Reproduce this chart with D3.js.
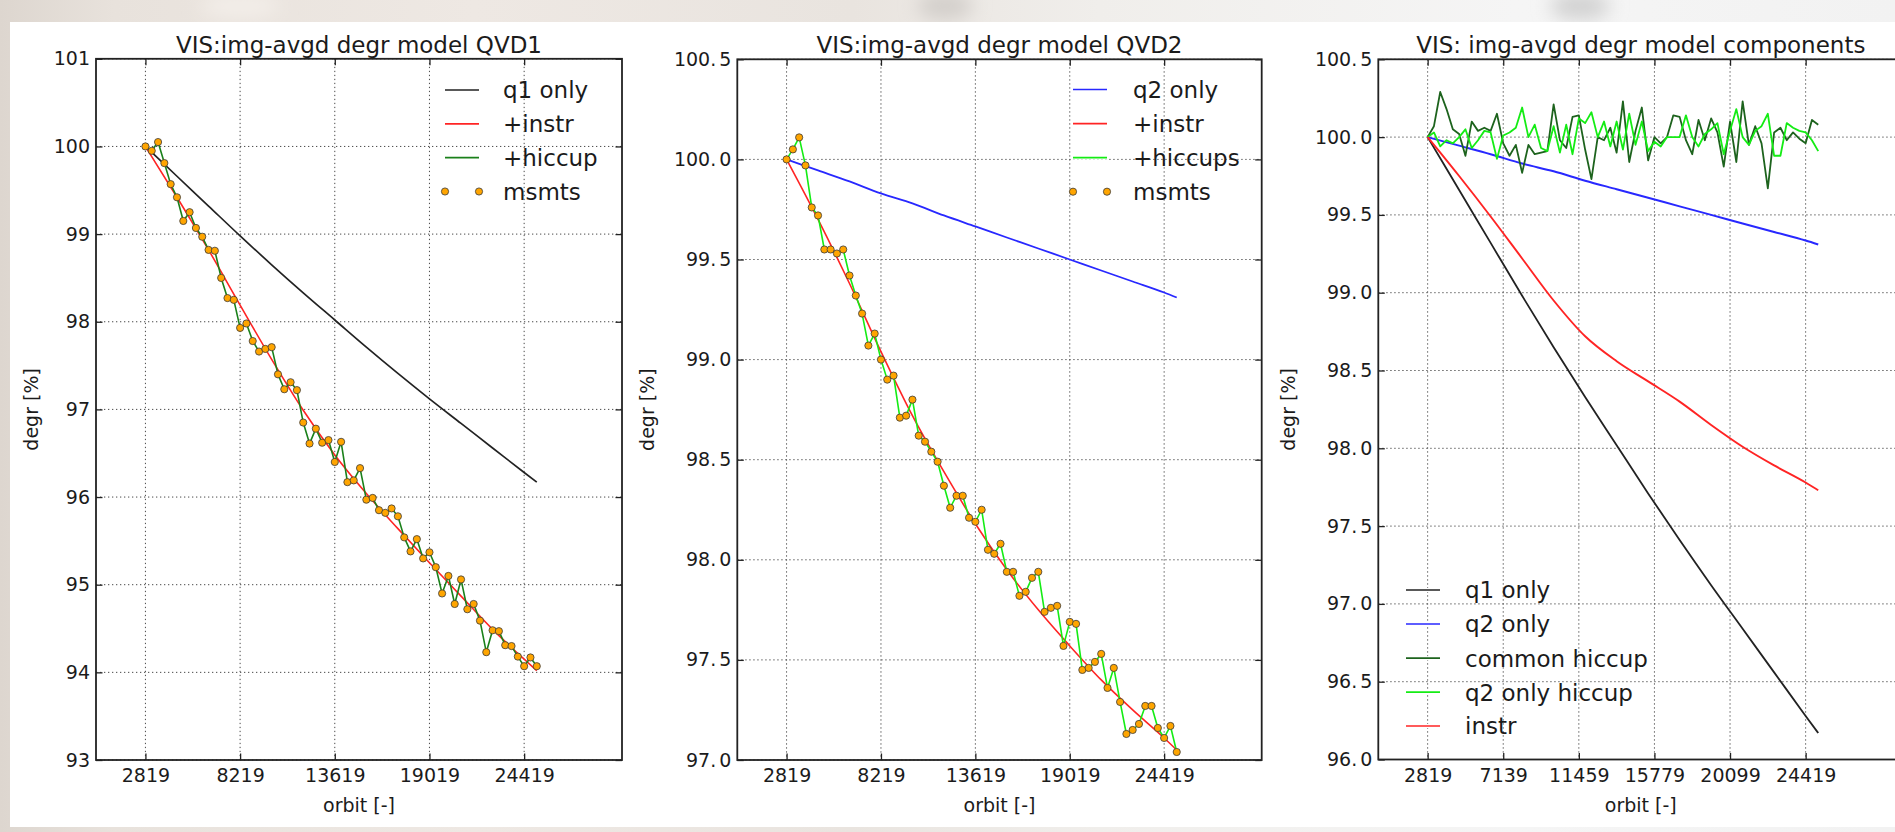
<!DOCTYPE html>
<html>
<head>
<meta charset="utf-8">
<script src="https://cdn.jsdelivr.net/npm/d3@7/dist/d3.min.js"></script>
<style>
html,body{margin:0;padding:0;overflow:hidden;background:#ebe6e1;}
svg{display:block;}
</style>
</head>
<body>
<svg id="chart" width="1895" height="832"></svg>
<script>
// ---------------- data ----------------
const orbits = [
  2819, 3179, 3539, 3899, 4259, 4619, 4979, 5339, 5699, 6059,
  6419, 6779, 7139, 7499, 7859, 8219, 8579, 8939, 9299, 9659,
  10019, 10379, 10739, 11099, 11459, 11819, 12179, 12539, 12899, 13259,
  13619, 13979, 14339, 14699, 15059, 15419, 15779, 16139, 16499, 16859,
  17219, 17579, 17939, 18299, 18659, 19019, 19379, 19739, 20099, 20459,
  20819, 21179, 21539, 21899, 22259, 22619, 22979, 23339, 23699, 24059,
  24419, 24779, 25139
];
const modelOrbits = [2819, 4619, 6419, 8219, 10019, 11819, 13619, 15419, 17219, 19019, 20819, 22619, 24419, 25139];

const xTicksQVD = [2819, 8219, 13619, 19019, 24419];
const xTicksComp = [2819, 7139, 11459, 15779, 20099, 24419];
const yTicksQVD1 = [93, 94, 95, 96, 97, 98, 99, 100, 101];
const yTicksQVD2 = [97.0, 97.5, 98.0, 98.5, 99.0, 99.5, 100.0, 100.5];
const yTicksComp = [96.0, 96.5, 97.0, 97.5, 98.0, 98.5, 99.0, 99.5, 100.0, 100.5];

const qvd1Msmts = [
  100.00, 99.95, 100.05, 99.81, 99.57, 99.42, 99.15, 99.25, 99.07, 98.97,
  98.82, 98.81, 98.50, 98.27, 98.25, 97.93, 97.98, 97.78, 97.66, 97.69,
  97.71, 97.40, 97.23, 97.31, 97.22, 96.85, 96.61, 96.78, 96.62, 96.65,
  96.40, 96.63, 96.17, 96.19, 96.33, 95.97, 95.99, 95.85, 95.82, 95.87,
  95.78, 95.54, 95.38, 95.52, 95.30, 95.37, 95.20, 94.90, 95.10, 94.78,
  95.06, 94.72, 94.78, 94.59, 94.23, 94.48, 94.47, 94.31, 94.30, 94.18,
  94.07, 94.17, 94.07
];
const qvd1Hiccup = qvd1Msmts;
const q1Only = [100.00, 99.66, 99.32, 98.98, 98.65, 98.33, 98.02, 97.71, 97.41, 97.12, 96.84, 96.56, 96.28, 96.17];
const qvd1Instr = [100.00, 99.42, 98.82, 98.19, 97.57, 96.99, 96.48, 96.04, 95.64, 95.25, 94.87, 94.49, 94.15, 94.02];

const qvd2Msmts = [
  100.00, 100.05, 100.11, 99.97, 99.76, 99.72, 99.55, 99.55, 99.53, 99.55,
  99.42, 99.32, 99.23, 99.07, 99.13, 99.00, 98.90, 98.92, 98.71, 98.72,
  98.80, 98.62, 98.59, 98.54, 98.49, 98.37, 98.26, 98.32, 98.32, 98.21,
  98.19, 98.25, 98.05, 98.03, 98.08, 97.94, 97.94, 97.82, 97.84, 97.91,
  97.94, 97.74, 97.76, 97.77, 97.57, 97.69, 97.68, 97.45, 97.46, 97.49,
  97.53, 97.36, 97.46, 97.29, 97.13, 97.15, 97.18, 97.27, 97.27, 97.16,
  97.11, 97.17, 97.04
];
const qvd2Hiccups = qvd2Msmts;
const q2Only = [100.00, 99.945, 99.89, 99.83, 99.78, 99.72, 99.665, 99.61, 99.555, 99.50, 99.445, 99.39, 99.335, 99.31];
const qvd2Instr = [100.00, 99.70, 99.38, 99.04, 98.72, 98.44, 98.18, 97.95, 97.75, 97.57, 97.40, 97.25, 97.11, 97.05];

const commonHiccup = [
  100.00, 100.07, 100.29, 100.18, 100.05, 100.02, 99.88, 100.10, 100.04, 100.06,
  100.04, 100.15, 99.96, 99.88, 99.95, 99.77, 99.95, 99.89, 99.90, 99.91,
  100.21, 99.98, 99.93, 100.13, 100.14, 99.92, 99.73, 100.00, 99.98, 100.06,
  99.90, 100.23, 99.84, 100.04, 100.19, 99.85, 100.00, 99.96, 100.00, 100.14,
  100.13, 99.98, 99.89, 100.11, 99.98, 100.12, 100.03, 99.81, 100.10, 99.84,
  100.23, 99.95, 100.07, 99.96, 99.67, 100.03, 100.06, 99.98, 100.03, 99.99,
  99.96, 100.11, 100.08
];
const q2OnlyHiccup = [
  100.00, 100.03, 99.94, 99.98, 99.96, 100.00, 100.05, 99.93, 99.98, 100.04,
  100.03, 99.86, 100.01, 100.03, 100.06, 100.19, 100.00, 100.08, 99.93, 99.91,
  100.07, 99.90, 100.08, 99.89, 100.12, 100.09, 100.16, 100.00, 100.10, 99.94,
  100.10, 99.92, 100.15, 99.95, 100.10, 99.91, 99.97, 99.94, 100.00, 100.00,
  100.00, 100.14, 100.00, 99.94, 100.02, 100.05, 100.09, 99.89, 100.04, 100.18,
  100.00, 99.95, 100.04, 100.07, 100.15, 99.88, 99.88, 100.09, 100.06, 100.04,
  100.03, 99.98, 99.91
];
const instrOnly = [100.00, 99.75, 99.49, 99.22, 98.95, 98.72, 98.56, 98.43, 98.30, 98.15, 98.01, 97.89, 97.78, 97.73];

// ---------------- style ----------------
const FONT = '"DejaVu Sans", Verdana, sans-serif';
const C = {black:'#222222', red:'#ff2424', green:'#1a801a', lime:'#14ec14', blue:'#2828ff', dkgreen:'#1d631d', orange:'#ffa500'};

const svg = d3.select('#chart');

// background (blurred photo behind the figure)
const defs = svg.append('defs');
const grad = defs.append('linearGradient').attr('id','bg').attr('x1',0).attr('x2',1).attr('y1',0).attr('y2',0);
[[0,'#ddd6cf'],[0.06,'#e8e2dc'],[0.25,'#eee8e3'],[0.45,'#e9e4df'],[0.58,'#f0eeeb'],[0.8,'#f5f5f5'],[1,'#f2f2f2']]
  .forEach(([o,c]) => grad.append('stop').attr('offset',o).attr('stop-color',c));
defs.append('filter').attr('id','blur').attr('x','-100%').attr('y','-100%').attr('width','300%').attr('height','300%')
  .append('feGaussianBlur').attr('stdDeviation',9);
svg.append('rect').attr('width',1895).attr('height',832).attr('fill','url(#bg)');
const blobs = svg.append('g').attr('filter','url(#blur)');
blobs.append('ellipse').attr('cx',945).attr('cy',6).attr('rx',28).attr('ry',14).attr('fill','#d3cfcb');
blobs.append('ellipse').attr('cx',1580).attr('cy',6).attr('rx',30).attr('ry',14).attr('fill','#d2d2d2');
blobs.append('ellipse').attr('cx',240).attr('cy',6).attr('rx',40).attr('ry',12).attr('fill','#f3eee9');
svg.append('rect').attr('x',10).attr('y',22).attr('width',1885).attr('height',805).attr('fill','#ffffff');

// ---------------- panels ----------------
function styleAxis(a){
  a.select('.domain').remove();
  a.attr('font-family',FONT).attr('font-size',19).attr('color','#222');
  a.selectAll('.tick line').attr('stroke-width',1.3);
  a.selectAll('.tick text').attr('fill','#1b1b1b');
}

function drawPanel(p){
  const x = d3.scaleLinear().domain([0,30000]).range([p.left,p.right]);
  const y = d3.scaleLinear().domain(p.yDomain).range([p.bottom,p.top]);
  const g = svg.append('g');

  // grid
  const grid = g.append('g').attr('stroke','#4a4a4a').attr('stroke-width',1).attr('stroke-dasharray','1.3,2.7');
  grid.selectAll('line.gx').data(p.xTicks).join('line').attr('class','gx')
    .attr('x1',d=>x(d)).attr('x2',d=>x(d)).attr('y1',p.top).attr('y2',p.bottom);
  grid.selectAll('line.gy').data(p.yTicks).join('line').attr('class','gy')
    .attr('x1',p.left).attr('x2',p.right).attr('y1',d=>y(d)).attr('y2',d=>y(d));

  // axes with inward ticks on all four sides
  g.append('g').attr('transform',`translate(0,${p.bottom})`)
    .call(d3.axisBottom(x).tickValues(p.xTicks).tickFormat(d3.format('d')).tickSizeInner(-6.5).tickSizeOuter(0).tickPadding(9))
    .call(styleAxis);
  g.append('g').attr('transform',`translate(0,${p.top})`)
    .call(d3.axisTop(x).tickValues(p.xTicks).tickFormat(()=> '').tickSizeInner(-6.5).tickSizeOuter(0))
    .call(styleAxis);
  const yl = g.append('g').attr('transform',`translate(${p.left},0)`)
    .call(d3.axisLeft(y).tickValues(p.yTicks).tickFormat(p.yFmt).tickSizeInner(-6.5).tickSizeOuter(0).tickPadding(6))
    .call(styleAxis);
  if (p.gapDecimals){
    yl.selectAll('.tick text').each(function(d){
      const t = d3.select(this); const s = p.yFmt(d).split('.');
      t.text(null);
      t.append('tspan').text(s[0] + '.');
      t.append('tspan').attr('dx',3).text(s[1]);
    });
  }
  g.append('g').attr('transform',`translate(${p.right},0)`)
    .call(d3.axisRight(y).tickValues(p.yTicks).tickFormat(()=> '').tickSizeInner(-6.5).tickSizeOuter(0))
    .call(styleAxis);

  // series
  p.lines.forEach(s => {
    const ln = d3.line().x((d,i)=>x(s.xs[i])).y(d=>y(d)).curve(s.smooth ? d3.curveMonotoneX : d3.curveLinear);
    g.append('path').datum(s.ys).attr('d',ln).attr('fill','none')
      .attr('stroke',s.color).attr('stroke-width',s.w || 1.7).attr('stroke-linejoin','round');
  });
  if (p.msmts){
    g.append('g').selectAll('circle').data(p.msmts).join('circle')
      .attr('cx',(d,i)=>x(orbits[i])).attr('cy',d=>y(d)).attr('r',3.6)
      .attr('fill',C.orange).attr('stroke','#3a3a3a').attr('stroke-width',0.8);
  }

  // frame
  g.append('rect').attr('x',p.left).attr('y',p.top).attr('width',p.right-p.left).attr('height',p.bottom-p.top)
    .attr('fill','none').attr('stroke','#222').attr('stroke-width',1.8);

  // texts
  g.append('text').attr('x',(p.left+p.right)/2).attr('y',52.5).attr('text-anchor','middle')
    .attr('font-family',FONT).attr('font-size',23).attr('fill','#1b1b1b').text(p.title);
  g.append('text').attr('x',(p.left+p.right)/2).attr('y',812).attr('text-anchor','middle')
    .attr('font-family',FONT).attr('font-size',19).attr('fill','#1b1b1b').text('orbit [-]');
  g.append('text').attr('transform',`translate(${p.left + p.ylabOff},${(p.top+p.bottom)/2}) rotate(-90)`)
    .attr('text-anchor','middle').attr('font-family',FONT).attr('font-size',19).attr('fill','#1b1b1b').text('degr [%]');

  // legend (no frame)
  const L = p.legend;
  const lg = g.append('g');
  L.items.forEach((it,k) => {
    const ry = L.rows[k];
    if (it.marker){
      [L.x1, L.x2].forEach(mx => lg.append('circle').attr('cx',mx).attr('cy',ry).attr('r',3.6)
        .attr('fill',C.orange).attr('stroke','#3a3a3a').attr('stroke-width',0.8));
    } else {
      lg.append('rect').attr('x',L.x1).attr('y',ry-2).attr('width',L.x2-L.x1).attr('height',4).attr('fill','#ffffff');
      lg.append('line').attr('x1',L.x1).attr('x2',L.x2).attr('y1',ry).attr('y2',ry)
        .attr('stroke',it.color).attr('stroke-width',1.7);
    }
    lg.append('text').attr('x',L.tx).attr('y',ry + 8.3).attr('font-family',FONT).attr('font-size',23)
      .attr('fill','#1b1b1b').text(it.label);
  });
}

const fmt1 = d3.format('.1f');

drawPanel({
  left: 96, right: 622, top: 58.8, bottom: 760,
  yDomain: [93, 101], xTicks: xTicksQVD, yTicks: yTicksQVD1, yFmt: d3.format('d'), gapDecimals: false,
  title: 'VIS:img-avgd degr model QVD1', ylabOff: -58,
  lines: [
    {xs: modelOrbits, ys: q1Only, color: C.black, smooth: true, w: 1.7},
    {xs: modelOrbits, ys: qvd1Instr, color: C.red, smooth: true, w: 1.6},
    {xs: orbits, ys: qvd1Hiccup, color: C.green, w: 1.6}
  ],
  msmts: qvd1Msmts,
  legend: {x1: 445, x2: 479, tx: 503, rows: [90, 123.8, 157.6, 191.5],
    items: [{label:'q1 only', color:C.black}, {label:'+instr', color:C.red}, {label:'+hiccup', color:C.green}, {label:'msmts', marker:true}]}
});

drawPanel({
  left: 737.3, right: 1261.7, top: 59.3, bottom: 760,
  yDomain: [97, 100.5], xTicks: xTicksQVD, yTicks: yTicksQVD2, yFmt: fmt1, gapDecimals: true,
  title: 'VIS:img-avgd degr model QVD2', ylabOff: -83,
  lines: [
    {xs: modelOrbits, ys: q2Only, color: C.blue, smooth: true, w: 1.8},
    {xs: modelOrbits, ys: qvd2Instr, color: C.red, smooth: true, w: 1.6},
    {xs: orbits, ys: qvd2Hiccups, color: C.lime, w: 1.6}
  ],
  msmts: qvd2Msmts,
  legend: {x1: 1073, x2: 1107, tx: 1133, rows: [89.5, 123.6, 157.7, 191.7],
    items: [{label:'q2 only', color:C.blue}, {label:'+instr', color:C.red}, {label:'+hiccups', color:C.lime}, {label:'msmts', marker:true}]}
});

drawPanel({
  left: 1378.3, right: 1903.3, top: 59.3, bottom: 759.5,
  yDomain: [96, 100.5], xTicks: xTicksComp, yTicks: yTicksComp, yFmt: fmt1, gapDecimals: true,
  title: 'VIS: img-avgd degr model components', ylabOff: -83,
  lines: [
    {xs: modelOrbits, ys: q1Only, color: C.black, smooth: true, w: 1.8},
    {xs: modelOrbits, ys: q2Only, color: C.blue, smooth: true, w: 2},
    {xs: orbits, ys: commonHiccup, color: C.dkgreen, w: 1.8},
    {xs: orbits, ys: q2OnlyHiccup, color: C.lime, w: 1.8},
    {xs: modelOrbits, ys: instrOnly, color: C.red, smooth: true, w: 1.9}
  ],
  msmts: null,
  legend: {x1: 1406, x2: 1440, tx: 1465, rows: [590, 624, 658.2, 692.2, 726],
    items: [{label:'q1 only', color:C.black}, {label:'q2 only', color:C.blue}, {label:'common hiccup', color:C.dkgreen}, {label:'q2 only hiccup', color:C.lime}, {label:'instr', color:C.red}]}
});
</script>
</body>
</html>
